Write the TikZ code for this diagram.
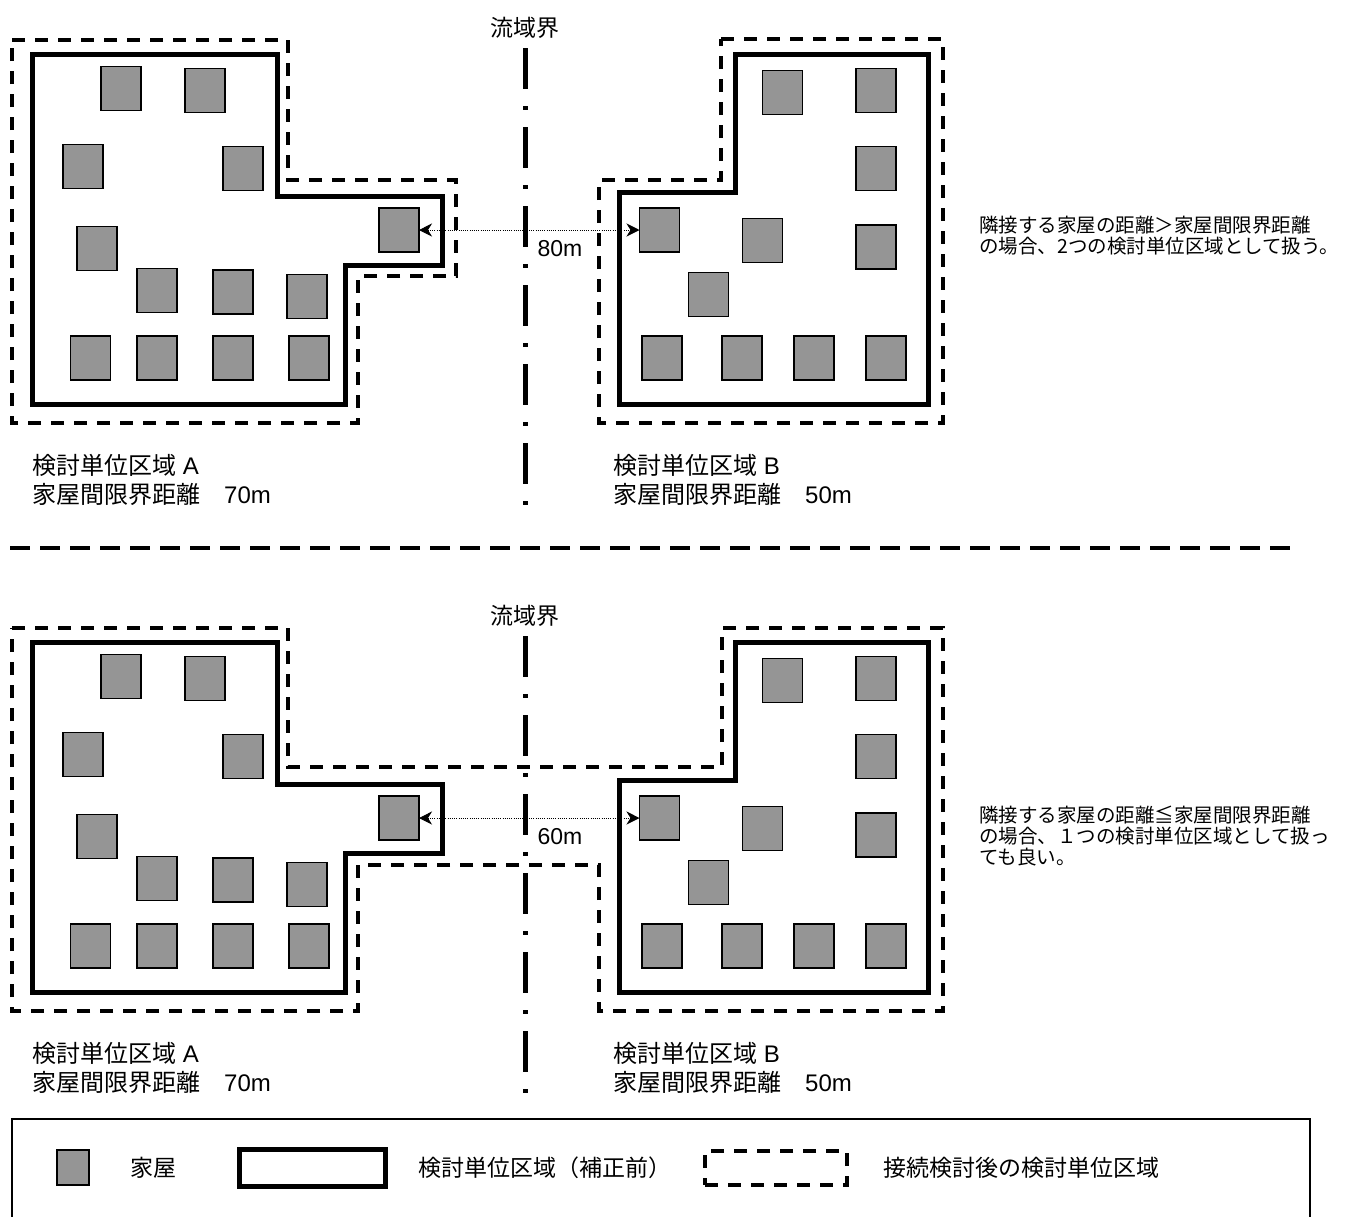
\documentclass[tikz,border=0pt]{standalone}
\usepackage{fontspec}
\setmainfont{Liberation Sans}
\newfontfamily\jp{Noto Sans CJK JP}
\usetikzlibrary{arrows.meta}
\definecolor{housegray}{HTML}{959595}
\begin{document}
\begin{tikzpicture}[x=1pt,y=-1pt,
  house/.style={draw=black, fill=housegray, line width=1.4pt, minimum width=40pt, minimum height=44pt, inner sep=0pt, outer sep=0pt},
  unitline/.style={line width=5pt, line join=miter},
  joinline/.style={line width=3.4pt, dash pattern=on 13pt off 10pt},
  flowline/.style={line width=5pt, dash pattern=on 41pt off 17pt on 4pt off 17pt},
  lbl/.style={font=\fontsize{24}{28}\selectfont, inner sep=0pt, anchor=west},
  note/.style={font=\jp\fontsize{19.5}{21}\selectfont, align=left, inner sep=0pt, anchor=west},
  dist/.style={{Stealth[length=13pt,width=13pt,inset=4pt]}-{Stealth[length=13pt,width=13pt,inset=4pt]}, line width=0.9pt, dash pattern=on 1pt off 1.2pt},
  lgtext/.style={font=\jp\fontsize{23}{26}\selectfont, inner sep=0pt, anchor=west}
]
\useasboundingbox (0,0) rectangle (1363,1216);

\foreach \dy/\p/\dd in {0/t/80m, 588/b/60m}{
  \begin{scope}[yshift=-\dy pt]
    % solid unit boundaries
    \draw[unitline] (32,54) -- (277,54) -- (277,196) -- (442,196) -- (442,265) -- (345,265) -- (345,404) -- (32,404) -- cycle;
    \draw[unitline] (735,54) -- (928,54) -- (928,404) -- (619,404) -- (619,192) -- (735,192) -- cycle;
    % houses
    \foreach \nm/\x/\y in {a1/121/88.5, a2/205/90.5, a3/83/166.5, a4/243/168.5, a5/97/248.5, a6/157/290.5, a7/233/292, a8/307/296.5, a9/90.5/358, a10/157/358, a11/233/358, a12/309/358, a13/399/230,
      b1/782.5/92.5, b2/876/90.5, b3/876/168.5, b4/876/247, b5/659.5/230, b6/762.5/240.5, b7/708.5/294.5, b8/662/358, b9/742/358, b10/814/358, b11/886/358}
      \node[house] (\p\nm) at (\x,\y) {};
    % flow boundary
    \node[font=\jp\fontsize{23}{26}\selectfont, inner sep=0pt] (\p flowlbl) at (525,28) {流域界};
    \draw[flowline] (525,48) -- (525,508);
    % distance arrow
    \draw[dist] (\p a13.east) -- (\p b5.west);
    \node[font=\fontsize{23}{26}\selectfont, inner sep=0pt] (\p distlbl) at (560,249) {\dd};
    % unit labels
    \node[lbl] (\p lblA1) at (32,465) {{\jp 検討単位区域} A};
    \node[lbl] (\p lblA2) at (32,494) {{\jp 家屋間限界距離　}70m};
    \node[lbl] (\p lblB1) at (613,465) {{\jp 検討単位区域} B};
    \node[lbl] (\p lblB2) at (613,494) {{\jp 家屋間限界距離　}50m};
  \end{scope}
}

% dashed boundaries, top panel
\draw[joinline] (12,40) -- (288,40) -- (288,180) -- (456,180) -- (456,276) -- (358,276) -- (358,423) -- (12,423) -- cycle;
\draw[joinline] (721,39) -- (943,39) -- (943,423) -- (599,423) -- (599,180) -- (721,180) -- cycle;
% dashed boundary, bottom panel (joined)
\draw[joinline] (12,628) -- (288,628) -- (288,767) -- (722,767) -- (722,628) -- (943,628) -- (943,1011) -- (599,1011) -- (599,865) -- (358,865) -- (358,1011) -- (12,1011) -- cycle;

% notes
\node[note] (note1) at (979,235.5) {隣接する家屋の距離＞家屋間限界距離\\の場合、2つの検討単位区域として扱う。};
\node[note] (note2) at (979,836) {隣接する家屋の距離≦家屋間限界距離\\の場合、１つの検討単位区域として扱っ\\ても良い。};

% separator
\draw[line width=4pt, dash pattern=on 20pt off 10pt] (10,548) -- (1300,548);

% legend
\draw[line width=1.5pt] (12,1230) -- (12,1119) -- (1310,1119) -- (1310,1230);
\node[house, minimum width=32pt, minimum height=35pt] (lghouse) at (73,1167.5) {};
\node[lgtext] (lghousetxt) at (130,1168) {家屋};
\node[draw, line width=5pt, minimum width=146pt, minimum height=37pt, inner sep=0pt] (lgunit) at (312,1167.5) {};
\node[lgtext] (lgunittxt) at (418,1168) {検討単位区域（補正前）};
\node[draw, joinline, minimum width=142pt, minimum height=34pt, inner sep=0pt] (lgjoin) at (776,1168) {};
\node[lgtext] (lgjointxt) at (883,1168) {接続検討後の検討単位区域};
\end{tikzpicture}
\end{document}
